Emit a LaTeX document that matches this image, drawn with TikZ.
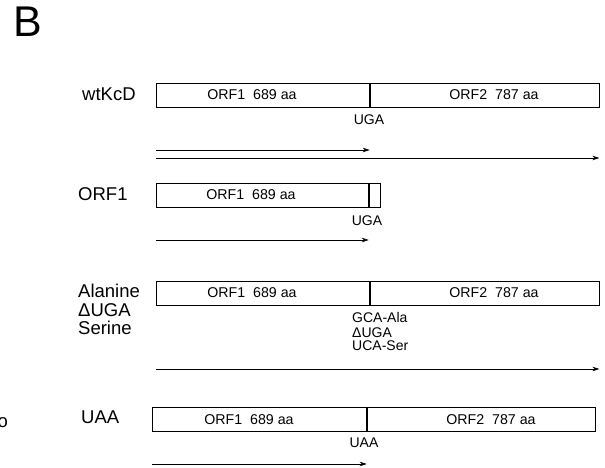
\documentclass[tikz,border=0pt]{standalone}
\usepackage{fontspec}
\setmainfont{Liberation Sans}
\usetikzlibrary{arrows.meta, positioning, calc}
\tikzset{
  orfbox/.style={rectangle, draw, line width=0.7pt, minimum height=24pt,
    inner sep=0pt, anchor=north west},
  orftext/.style={font=\fontsize{14.2}{16}\selectfont, inner sep=0pt},
  codon/.style={font=\fontsize{14}{16}\selectfont, inner sep=0pt},
  rowlabel/.style={font=\fontsize{18.5}{20}\selectfont, inner sep=0pt, anchor=west},
  fwd/.style={-{Stealth[length=7pt, width=4.5pt]}, line width=0.7pt}
}
\begin{document}
\begin{tikzpicture}[x=1pt, y=-1pt]
  \useasboundingbox (0,0) rectangle (605,468);

  \node[font=\fontsize{43}{46}\selectfont, inner sep=0pt, anchor=north west] (panel) at (13,7) {B};
  \node[rowlabel, anchor=east] (cut) at (8,423) {o};

  % --- wtKcD ---
  \node[orfbox, minimum width=213pt] (w1) at (156,83) {};
  \node[orfbox, minimum width=229pt] (w2) at (w1.north east) {};
  \node[orftext] (w1t) at (252,95) {ORF1\ \ 689 aa};
  \node[orftext] (w2t) at (494,95) {ORF2\ \ 787 aa};
  \node[codon] (wstop) at (369,119.5) {UGA};
  \node[rowlabel] (wlab) at (82,94) {wtKcD};
  \draw[fwd] (w1.south west |- 0,150) -- (w1.south east |- 0,150);
  \draw[fwd] (w1.south west |- 0,158) -- (w2.south east |- 0,158);

  % --- ORF1 ---
  \node[orfbox, minimum width=212pt] (o1) at (156,183) {};
  \node[orfbox, minimum width=11pt] (o2) at (o1.north east) {};
  \node[orftext] (o1t) at (251,195) {ORF1\ \ 689 aa};
  \node[codon] (ostop) at (367,221) {UGA};
  \node[rowlabel] (olab) at (78,194) {ORF1};
  \draw[fwd] (o1.south west |- 0,240) -- (o1.south east |- 0,240);

  % --- Alanine / Serine ---
  \node[orfbox, minimum width=213pt] (a1) at (156,281) {};
  \node[orfbox, minimum width=229pt] (a2) at (a1.north east) {};
  \node[orftext] (a1t) at (252,293) {ORF1\ \ 689 aa};
  \node[orftext] (a2t) at (494,293) {ORF2\ \ 787 aa};
  \node[codon, anchor=west] (ala) at (352,317) {GCA-Ala};
  \node[codon, anchor=west] (adel) at (352,333) {ΔUGA};
  \node[codon, anchor=west] (ser) at (352,346) {UCA-Ser};
  \node[rowlabel] (alab1) at (78,291) {Alanine};
  \node[rowlabel] (alab2) at (78,310) {ΔUGA};
  \node[rowlabel] (alab3) at (78,328) {Serine};
  \draw[fwd] (a1.south west |- 0,369) -- (a2.south east |- 0,369);

  % --- UAA ---
  \node[orfbox, minimum width=214pt] (u1) at (152,407) {};
  \node[orfbox, minimum width=228pt] (u2) at (u1.north east) {};
  \node[orftext] (u1t) at (249,420) {ORF1\ \ 689 aa};
  \node[orftext] (u2t) at (491,420) {ORF2\ \ 787 aa};
  \node[codon] (ustop) at (364,443) {UAA};
  \node[rowlabel] (ulab) at (81,417) {UAA};
  \draw[fwd] (u1.south west |- 0,464) -- (u1.south east |- 0,464);
\end{tikzpicture}
\end{document}
